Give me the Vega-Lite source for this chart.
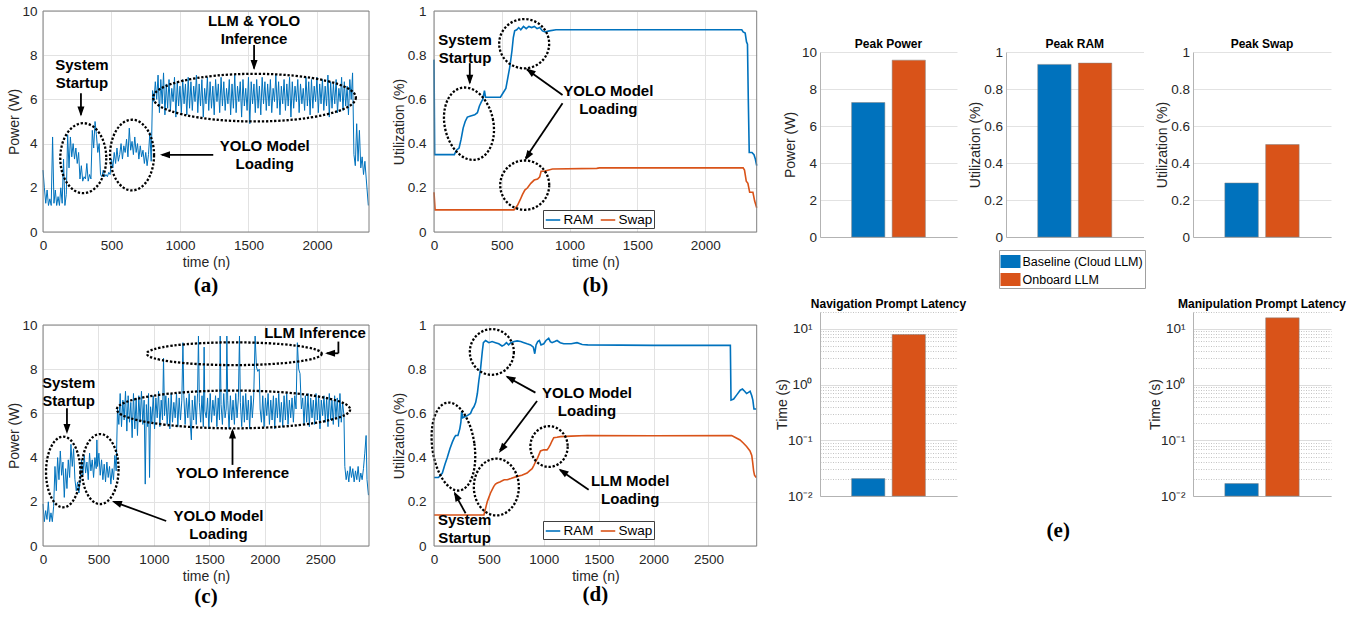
{
"$schema": "https://vega.github.io/schema/vega-lite/v6.json",
"background": "white",
"padding": {"left": 7, "top": 4, "right": 5, "bottom": 5},
"bounds": "flush",
"columns": 9,
"spacing": {"row": 88, "column": 0},
"resolve": {"scale": {"color": "independent"}, "legend": {"color": "independent"}},
"datasets": {
"pa": [{"t":0,"v":2.8},{"t":10,"v":2.0},{"t":20,"v":1.3},{"t":30,"v":1.9},{"t":40,"v":1.2},{"t":50,"v":1.5},{"t":60,"v":1.2},{"t":70,"v":4.3},{"t":80,"v":1.3},{"t":90,"v":1.9},{"t":100,"v":1.2},{"t":110,"v":1.6},{"t":120,"v":1.2},{"t":130,"v":2.0},{"t":140,"v":1.3},{"t":150,"v":3.3},{"t":160,"v":1.2},{"t":170,"v":1.7},{"t":180,"v":4.4},{"t":190,"v":2.9},{"t":200,"v":4.3},{"t":210,"v":3.4},{"t":220,"v":4.0},{"t":230,"v":3.3},{"t":240,"v":3.8},{"t":250,"v":3.1},{"t":260,"v":3.6},{"t":270,"v":2.4},{"t":280,"v":3.0},{"t":290,"v":2.3},{"t":300,"v":2.5},{"t":310,"v":2.4},{"t":320,"v":3.1},{"t":330,"v":2.3},{"t":340,"v":2.6},{"t":350,"v":2.4},{"t":360,"v":4.6},{"t":370,"v":3.8},{"t":380,"v":5.0},{"t":390,"v":4.4},{"t":400,"v":3.6},{"t":410,"v":4.0},{"t":420,"v":2.6},{"t":430,"v":2.5},{"t":440,"v":2.8},{"t":450,"v":2.5},{"t":460,"v":2.6},{"t":470,"v":2.5},{"t":480,"v":2.7},{"t":490,"v":2.6},{"t":500,"v":3.3},{"t":510,"v":2.9},{"t":520,"v":3.6},{"t":530,"v":3.1},{"t":540,"v":3.8},{"t":550,"v":3.2},{"t":560,"v":3.5},{"t":570,"v":4.0},{"t":580,"v":3.3},{"t":590,"v":3.9},{"t":600,"v":3.6},{"t":610,"v":4.2},{"t":620,"v":3.4},{"t":630,"v":4.7},{"t":640,"v":3.7},{"t":650,"v":4.1},{"t":660,"v":3.5},{"t":670,"v":4.3},{"t":680,"v":3.6},{"t":690,"v":4.0},{"t":700,"v":3.3},{"t":710,"v":3.9},{"t":720,"v":3.4},{"t":730,"v":3.7},{"t":740,"v":3.1},{"t":750,"v":3.6},{"t":760,"v":3.0},{"t":770,"v":3.5},{"t":780,"v":4.5},{"t":790,"v":3.2},{"t":800,"v":6.4},{"t":810,"v":5.9},{"t":820,"v":6.8},
{"t":830,"v":6.0},{"t":840,"v":7.1},{"t":850,"v":5.4},{"t":860,"v":6.9},{"t":870,"v":5.8},{"t":880,"v":7.2},{"t":890,"v":5.3},{"t":900,"v":6.7},{"t":910,"v":5.6},{"t":920,"v":6.9},{"t":930,"v":5.5},{"t":940,"v":6.5},{"t":950,"v":5.9},{"t":960,"v":7.0},{"t":970,"v":5.2},{"t":980,"v":6.8},{"t":990,"v":5.7},{"t":1000,"v":6.6},{"t":1010,"v":5.4},{"t":1020,"v":6.9},{"t":1030,"v":5.8},{"t":1040,"v":6.7},{"t":1050,"v":5.3},{"t":1060,"v":7.0},{"t":1070,"v":5.6},{"t":1080,"v":6.8},{"t":1090,"v":5.5},{"t":1100,"v":6.6},{"t":1110,"v":5.9},{"t":1120,"v":7.1},{"t":1130,"v":5.4},{"t":1140,"v":6.7},{"t":1150,"v":5.7},{"t":1160,"v":6.9},{"t":1170,"v":5.2},{"t":1180,"v":6.5},{"t":1190,"v":5.8},{"t":1200,"v":7.0},{"t":1210,"v":5.5},{"t":1220,"v":6.8},{"t":1230,"v":5.6},{"t":1240,"v":6.6},{"t":1250,"v":5.3},{"t":1260,"v":6.9},{"t":1270,"v":5.9},{"t":1280,"v":6.7},{"t":1290,"v":5.4},{"t":1300,"v":7.0},{"t":1310,"v":5.7},{"t":1320,"v":6.8},{"t":1330,"v":5.5},{"t":1340,"v":6.5},{"t":1350,"v":5.8},{"t":1360,"v":6.9},{"t":1370,"v":5.3},{"t":1380,"v":6.7},{"t":1390,"v":5.6},{"t":1400,"v":7.1},{"t":1410,"v":5.4},{"t":1420,"v":6.6},{"t":1430,"v":5.9},{"t":1440,"v":6.8},{"t":1450,"v":5.2},{"t":1460,"v":6.9},{"t":1470,"v":5.7},{"t":1480,"v":6.5},{"t":1490,"v":5.5},{"t":1500,"v":7.0},{"t":1510,"v":4.9},{"t":1520,"v":6.8},{"t":1530,"v":5.8},{"t":1540,"v":6.7},{"t":1550,"v":5.4},{"t":1560,"v":6.9},{"t":1570,"v":5.6},{"t":1580,"v":6.6},{"t":1590,"v":5.3},{"t":1600,"v":7.0},{"t":1610,"v":5.8},{"t":1620,"v":6.8},{"t":1630,"v":5.5},{"t":1640,"v":6.7},{"t":1650,"v":5.7},{"t":1660,"v":6.9},{"t":1670,"v":5.4},{"t":1680,"v":6.5},{"t":1690,"v":5.9},{"t":1700,"v":7.1},{"t":1710,"v":5.6},{"t":1720,"v":6.8},{"t":1730,"v":5.3},{"t":1740,"v":6.6},{"t":1750,"v":5.8},{"t":1760,"v":6.9},{"t":1770,"v":5.5},{"t":1780,"v":6.7},{"t":1790,"v":5.7},{"t":1800,"v":7.0},{"t":1810,"v":5.2},{"t":1820,"v":6.8},{"t":1830,"v":5.6},{"t":1840,"v":6.6},{"t":1850,"v":5.9},{"t":1860,"v":6.9},{"t":1870,"v":5.4},{"t":1880,"v":6.7},{"t":1890,"v":5.8},{"t":1900,"v":6.5},{"t":1910,"v":5.5},{"t":1920,"v":7.0},{"t":1930,"v":5.7},{"t":1940,"v":6.8},{"t":1950,"v":5.3},{"t":1960,"v":6.9},{"t":1970,"v":5.6},{"t":1980,"v":6.6},{"t":1990,"v":5.9},{"t":2000,"v":7.0},{"t":2010,"v":5.4},{"t":2020,"v":6.7},{"t":2030,"v":5.8},{"t":2040,"v":6.9},{"t":2050,"v":5.5},{"t":2060,"v":6.6},{"t":2070,"v":5.7},{"t":2080,"v":7.1},{"t":2090,"v":5.2},{"t":2100,"v":6.8},{"t":2110,"v":5.6},{"t":2120,"v":6.7},{"t":2130,"v":5.8},{"t":2140,"v":6.9},{"t":2150,"v":5.4},{"t":2160,"v":6.5},{"t":2170,"v":5.9},{"t":2180,"v":7.0},{"t":2190,"v":5.5},{"t":2200,"v":6.8},{"t":2210,"v":5.7},{"t":2220,"v":6.6},{"t":2230,"v":5.3},{"t":2240,"v":6.9},{"t":2250,"v":6.0},{"t":2260,"v":7.2},{"t":2270,"v":3.5},{"t":2280,"v":3.0},{"t":2290,"v":4.9},{"t":2300,"v":3.2},{"t":2310,"v":4.6},{"t":2320,"v":2.9},{"t":2330,"v":3.4},{"t":2340,"v":2.6},{"t":2350,"v":3.2},{"t":2360,"v":2.4},{"t":2375,"v":1.2}],
"pc": [{"t":0,"v":1.9},{"t":12,"v":1.1},{"t":24,"v":1.6},{"t":36,"v":1.2},{"t":48,"v":2.0},{"t":60,"v":1.1},{"t":72,"v":1.5},{"t":84,"v":1.1},{"t":96,"v":1.8},{"t":108,"v":3.6},{"t":120,"v":2.5},{"t":132,"v":4.0},{"t":144,"v":3.0},{"t":156,"v":4.3},{"t":168,"v":3.2},{"t":180,"v":3.8},{"t":192,"v":2.2},{"t":204,"v":3.5},{"t":216,"v":2.6},{"t":228,"v":3.9},{"t":240,"v":3.1},{"t":252,"v":4.6},{"t":264,"v":3.6},{"t":276,"v":4.4},{"t":288,"v":3.0},{"t":300,"v":2.5},{"t":312,"v":2.9},{"t":324,"v":2.4},{"t":336,"v":3.0},{"t":348,"v":3.9},{"t":360,"v":3.2},{"t":372,"v":4.1},{"t":384,"v":3.3},{"t":396,"v":3.8},{"t":408,"v":3.0},{"t":420,"v":4.2},{"t":432,"v":3.4},{"t":444,"v":3.9},{"t":456,"v":3.1},{"t":468,"v":4.0},{"t":480,"v":3.5},{"t":486,"v":4.8},{"t":492,"v":3.6},{"t":504,"v":4.2},{"t":516,"v":3.2},{"t":528,"v":3.9},{"t":540,"v":3.0},{"t":552,"v":3.7},{"t":564,"v":2.9},{"t":576,"v":3.8},{"t":588,"v":3.1},{"t":600,"v":3.6},{"t":612,"v":2.8},{"t":624,"v":3.5},{"t":636,"v":3.0},{"t":648,"v":4.1},{"t":660,"v":3.4},{"t":672,"v":6.2},{"t":684,"v":5.5},
{"t":696,"v":6.9},{"t":708,"v":5.4},{"t":720,"v":6.6},{"t":732,"v":5.7},{"t":744,"v":7.0},{"t":756,"v":5.2},{"t":768,"v":6.8},{"t":780,"v":5.6},{"t":792,"v":6.5},{"t":804,"v":4.9},{"t":816,"v":6.9},{"t":828,"v":5.3},{"t":840,"v":6.7},{"t":852,"v":5.0},{"t":864,"v":6.8},{"t":876,"v":5.6},{"t":888,"v":7.0},{"t":900,"v":5.5},{"t":912,"v":6.6},{"t":922,"v":2.8},{"t":932,"v":6.4},{"t":944,"v":5.4},{"t":952,"v":6.9},{"t":961,"v":3.1},{"t":970,"v":6.3},{"t":982,"v":5.6},{"t":994,"v":6.8},{"t":1006,"v":5.3},{"t":1018,"v":6.7},{"t":1030,"v":5.8},{"t":1042,"v":7.0},{"t":1054,"v":5.4},{"t":1066,"v":6.6},{"t":1078,"v":5.7},{"t":1087,"v":8.5},{"t":1096,"v":5.9},{"t":1108,"v":6.8},{"t":1120,"v":5.5},{"t":1132,"v":6.7},{"t":1144,"v":5.3},{"t":1156,"v":6.9},{"t":1168,"v":5.6},{"t":1180,"v":6.5},{"t":1192,"v":5.8},{"t":1204,"v":6.9},{"t":1216,"v":5.4},{"t":1228,"v":6.7},{"t":1240,"v":5.7},{"t":1252,"v":6.6},{"t":1262,"v":9.2},{"t":1270,"v":6.8},{"t":1282,"v":5.5},{"t":1294,"v":6.7},{"t":1306,"v":5.8},{"t":1318,"v":6.9},{"t":1330,"v":5.4},{"t":1338,"v":4.8},{"t":1346,"v":6.6},{"t":1358,"v":5.7},{"t":1370,"v":6.8},{"t":1382,"v":5.5},{"t":1394,"v":6.9},{"t":1402,"v":9.5},{"t":1410,"v":6.5},{"t":1422,"v":5.6},{"t":1434,"v":6.8},{"t":1446,"v":5.4},{"t":1453,"v":9.0},{"t":1460,"v":6.1},{"t":1472,"v":5.8},{"t":1484,"v":6.7},{"t":1496,"v":5.3},{"t":1508,"v":6.9},{"t":1520,"v":5.6},{"t":1532,"v":6.6},{"t":1544,"v":5.9},{"t":1556,"v":6.8},{"t":1568,"v":5.4},{"t":1580,"v":6.7},{"t":1592,"v":5.7},{"t":1598,"v":9.5},{"t":1606,"v":6.4},{"t":1618,"v":5.5},{"t":1630,"v":6.9},{"t":1642,"v":5.8},{"t":1652,"v":6.2},{"t":1658,"v":9.5},{"t":1666,"v":6.6},{"t":1678,"v":5.3},{"t":1690,"v":6.8},{"t":1702,"v":5.7},{"t":1714,"v":6.6},{"t":1726,"v":5.5},{"t":1738,"v":6.9},{"t":1750,"v":5.8},{"t":1762,"v":6.7},{"t":1772,"v":9.5},{"t":1780,"v":6.5},{"t":1792,"v":5.4},{"t":1804,"v":6.8},{"t":1816,"v":5.6},{"t":1828,"v":6.9},{"t":1840,"v":5.7},{"t":1852,"v":6.6},{"t":1864,"v":5.3},{"t":1876,"v":6.8},{"t":1888,"v":5.8},{"t":1900,"v":6.7},{"t":1913,"v":9.5},{"t":1925,"v":8.1},{"t":1937,"v":7.9},{"t":1950,"v":8.0},{"t":1958,"v":6.2},{"t":1970,"v":5.6},{"t":1982,"v":6.8},{"t":1994,"v":5.4},{"t":2006,"v":6.7},{"t":2018,"v":5.9},{"t":2030,"v":6.9},{"t":2042,"v":5.5},{"t":2054,"v":6.6},{"t":2066,"v":5.7},{"t":2078,"v":6.8},{"t":2090,"v":5.3},{"t":2102,"v":6.7},{"t":2114,"v":5.8},{"t":2126,"v":6.9},{"t":2138,"v":5.6},{"t":2150,"v":6.5},{"t":2162,"v":5.4},{"t":2174,"v":6.8},{"t":2186,"v":5.7},{"t":2198,"v":6.9},{"t":2210,"v":5.5},{"t":2222,"v":6.6},{"t":2234,"v":5.8},{"t":2246,"v":6.7},{"t":2258,"v":5.6},{"t":2270,"v":6.8},{"t":2282,"v":6.2},{"t":2294,"v":9.2},{"t":2306,"v":8.0},{"t":2318,"v":7.8},{"t":2330,"v":6.2},{"t":2342,"v":6.7},{"t":2354,"v":5.5},{"t":2366,"v":6.8},{"t":2378,"v":5.6},{"t":2390,"v":6.9},{"t":2402,"v":5.4},{"t":2414,"v":6.7},{"t":2426,"v":5.8},{"t":2438,"v":6.6},{"t":2450,"v":5.5},{"t":2462,"v":6.9},{"t":2474,"v":5.7},{"t":2486,"v":6.8},{"t":2498,"v":5.3},{"t":2510,"v":6.6},{"t":2522,"v":5.9},{"t":2534,"v":6.8},{"t":2546,"v":5.6},{"t":2558,"v":6.7},{"t":2570,"v":5.4},{"t":2582,"v":6.9},{"t":2594,"v":5.7},{"t":2606,"v":6.6},{"t":2618,"v":5.5},{"t":2630,"v":6.8},{"t":2642,"v":5.8},{"t":2654,"v":6.7},{"t":2666,"v":5.4},{"t":2678,"v":6.9},{"t":2690,"v":5.6},{"t":2702,"v":6.5},{"t":2714,"v":5.9},{"t":2722,"v":3.6},{"t":2734,"v":3.0},{"t":2746,"v":3.4},{"t":2758,"v":2.9},{"t":2770,"v":3.6},{"t":2782,"v":3.1},{"t":2794,"v":3.5},{"t":2806,"v":2.9},{"t":2818,"v":3.4},{"t":2830,"v":3.0},{"t":2842,"v":3.6},{"t":2854,"v":2.9},{"t":2866,"v":3.3},{"t":2878,"v":3.0},{"t":2890,"v":3.5},{"t":2902,"v":4.2},{"t":2914,"v":5.0},{"t":2922,"v":3.0},{"t":2935,"v":2.3}],
"pb": [{"t":0,"s":"RAM","v":0.78},{"t":5,"s":"RAM","v":0.35},{"t":150,"s":"RAM","v":0.35},{"t":165,"s":"RAM","v":0.37},{"t":185,"s":"RAM","v":0.38},{"t":200,"s":"RAM","v":0.42},{"t":215,"s":"RAM","v":0.47},{"t":230,"s":"RAM","v":0.5},{"t":246,"s":"RAM","v":0.52},{"t":270,"s":"RAM","v":0.525},{"t":300,"s":"RAM","v":0.53},{"t":320,"s":"RAM","v":0.54},{"t":335,"s":"RAM","v":0.57},{"t":350,"s":"RAM","v":0.59},{"t":360,"s":"RAM","v":0.6},{"t":372,"s":"RAM","v":0.64},{"t":380,"s":"RAM","v":0.61},{"t":400,"s":"RAM","v":0.61},{"t":490,"s":"RAM","v":0.61},{"t":510,"s":"RAM","v":0.63},{"t":530,"s":"RAM","v":0.65},{"t":545,"s":"RAM","v":0.7},{"t":560,"s":"RAM","v":0.75},{"t":575,"s":"RAM","v":0.82},{"t":585,"s":"RAM","v":0.88},{"t":595,"s":"RAM","v":0.91},{"t":610,"s":"RAM","v":0.915},{"t":625,"s":"RAM","v":0.925},{"t":640,"s":"RAM","v":0.915},{"t":660,"s":"RAM","v":0.93},{"t":680,"s":"RAM","v":0.92},{"t":700,"s":"RAM","v":0.93},{"t":720,"s":"RAM","v":0.925},{"t":740,"s":"RAM","v":0.93},{"t":760,"s":"RAM","v":0.92},{"t":780,"s":"RAM","v":0.925},{"t":800,"s":"RAM","v":0.91},{"t":820,"s":"RAM","v":0.905},{"t":850,"s":"RAM","v":0.91},{"t":900,"s":"RAM","v":0.915},{"t":1500,"s":"RAM","v":0.915},{"t":2270,"s":"RAM","v":0.915},{"t":2280,"s":"RAM","v":0.905},{"t":2295,"s":"RAM","v":0.9},{"t":2305,"s":"RAM","v":0.86},{"t":2312,"s":"RAM","v":0.85},{"t":2318,"s":"RAM","v":0.6},{"t":2325,"s":"RAM","v":0.36},{"t":2345,"s":"RAM","v":0.36},{"t":2360,"s":"RAM","v":0.35},{"t":2370,"s":"RAM","v":0.33},{"t":2380,"s":"RAM","v":0.3},
{"t":0,"s":"Swap","v":0.18},{"t":8,"s":"Swap","v":0.1},{"t":590,"s":"Swap","v":0.1},{"t":615,"s":"Swap","v":0.12},{"t":635,"s":"Swap","v":0.145},{"t":653,"s":"Swap","v":0.17},{"t":670,"s":"Swap","v":0.19},{"t":690,"s":"Swap","v":0.2},{"t":714,"s":"Swap","v":0.22},{"t":739,"s":"Swap","v":0.235},{"t":764,"s":"Swap","v":0.24},{"t":780,"s":"Swap","v":0.25},{"t":790,"s":"Swap","v":0.275},{"t":813,"s":"Swap","v":0.275},{"t":874,"s":"Swap","v":0.285},{"t":1200,"s":"Swap","v":0.288},{"t":1220,"s":"Swap","v":0.29},{"t":2280,"s":"Swap","v":0.29},{"t":2290,"s":"Swap","v":0.28},{"t":2303,"s":"Swap","v":0.23},{"t":2315,"s":"Swap","v":0.22},{"t":2328,"s":"Swap","v":0.18},{"t":2352,"s":"Swap","v":0.18},{"t":2365,"s":"Swap","v":0.14},{"t":2380,"s":"Swap","v":0.11}],
"pd": [{"t":0,"s":"RAM","v":0.31},{"t":40,"s":"RAM","v":0.31},{"t":60,"s":"RAM","v":0.32},{"t":76,"s":"RAM","v":0.33},{"t":100,"s":"RAM","v":0.37},{"t":121,"s":"RAM","v":0.4},{"t":145,"s":"RAM","v":0.44},{"t":167,"s":"RAM","v":0.47},{"t":185,"s":"RAM","v":0.49},{"t":197,"s":"RAM","v":0.5},{"t":218,"s":"RAM","v":0.5},{"t":235,"s":"RAM","v":0.53},{"t":245,"s":"RAM","v":0.56},{"t":252,"s":"RAM","v":0.61},{"t":262,"s":"RAM","v":0.58},{"t":280,"s":"RAM","v":0.585},{"t":303,"s":"RAM","v":0.59},{"t":333,"s":"RAM","v":0.6},{"t":350,"s":"RAM","v":0.62},{"t":364,"s":"RAM","v":0.63},{"t":380,"s":"RAM","v":0.65},{"t":395,"s":"RAM","v":0.69},{"t":409,"s":"RAM","v":0.75},{"t":424,"s":"RAM","v":0.8},{"t":440,"s":"RAM","v":0.88},{"t":450,"s":"RAM","v":0.92},{"t":470,"s":"RAM","v":0.93},{"t":500,"s":"RAM","v":0.92},{"t":530,"s":"RAM","v":0.925},{"t":560,"s":"RAM","v":0.92},{"t":590,"s":"RAM","v":0.915},{"t":620,"s":"RAM","v":0.905},{"t":640,"s":"RAM","v":0.91},{"t":660,"s":"RAM","v":0.92},{"t":680,"s":"RAM","v":0.91},{"t":700,"s":"RAM","v":0.92},{"t":730,"s":"RAM","v":0.925},{"t":758,"s":"RAM","v":0.928},{"t":790,"s":"RAM","v":0.925},{"t":820,"s":"RAM","v":0.92},{"t":848,"s":"RAM","v":0.915},{"t":880,"s":"RAM","v":0.91},{"t":905,"s":"RAM","v":0.9},{"t":918,"s":"RAM","v":0.87},{"t":930,"s":"RAM","v":0.91},{"t":945,"s":"RAM","v":0.925},{"t":960,"s":"RAM","v":0.93},{"t":975,"s":"RAM","v":0.91},{"t":1000,"s":"RAM","v":0.915},{"t":1020,"s":"RAM","v":0.93},{"t":1045,"s":"RAM","v":0.94},{"t":1060,"s":"RAM","v":0.925},{"t":1076,"s":"RAM","v":0.92},{"t":1100,"s":"RAM","v":0.925},{"t":1121,"s":"RAM","v":0.93},{"t":1150,"s":"RAM","v":0.92},{"t":1182,"s":"RAM","v":0.915},{"t":1250,"s":"RAM","v":0.915},{"t":1303,"s":"RAM","v":0.92},{"t":1350,"s":"RAM","v":0.912},{"t":1400,"s":"RAM","v":0.91},{"t":2000,"s":"RAM","v":0.908},{"t":2700,"s":"RAM","v":0.908},{"t":2706,"s":"RAM","v":0.66},{"t":2730,"s":"RAM","v":0.665},{"t":2760,"s":"RAM","v":0.685},{"t":2790,"s":"RAM","v":0.705},{"t":2810,"s":"RAM","v":0.71},{"t":2830,"s":"RAM","v":0.7},{"t":2848,"s":"RAM","v":0.69},{"t":2865,"s":"RAM","v":0.695},{"t":2880,"s":"RAM","v":0.7},{"t":2895,"s":"RAM","v":0.68},{"t":2905,"s":"RAM","v":0.66},{"t":2915,"s":"RAM","v":0.62},{"t":2935,"s":"RAM","v":0.62},
{"t":0,"s":"Swap","v":0.14},{"t":455,"s":"Swap","v":0.14},{"t":470,"s":"Swap","v":0.17},{"t":485,"s":"Swap","v":0.2},{"t":500,"s":"Swap","v":0.22},{"t":515,"s":"Swap","v":0.24},{"t":530,"s":"Swap","v":0.255},{"t":545,"s":"Swap","v":0.27},{"t":560,"s":"Swap","v":0.28},{"t":576,"s":"Swap","v":0.285},{"t":600,"s":"Swap","v":0.29},{"t":621,"s":"Swap","v":0.295},{"t":640,"s":"Swap","v":0.3},{"t":667,"s":"Swap","v":0.3},{"t":700,"s":"Swap","v":0.305},{"t":758,"s":"Swap","v":0.315},{"t":800,"s":"Swap","v":0.32},{"t":848,"s":"Swap","v":0.33},{"t":870,"s":"Swap","v":0.34},{"t":894,"s":"Swap","v":0.35},{"t":910,"s":"Swap","v":0.365},{"t":924,"s":"Swap","v":0.38},{"t":945,"s":"Swap","v":0.4},{"t":970,"s":"Swap","v":0.43},{"t":1000,"s":"Swap","v":0.435},{"t":1030,"s":"Swap","v":0.435},{"t":1045,"s":"Swap","v":0.445},{"t":1061,"s":"Swap","v":0.46},{"t":1075,"s":"Swap","v":0.475},{"t":1091,"s":"Swap","v":0.49},{"t":1120,"s":"Swap","v":0.492},{"t":1152,"s":"Swap","v":0.495},{"t":1250,"s":"Swap","v":0.497},{"t":1394,"s":"Swap","v":0.5},{"t":2000,"s":"Swap","v":0.499},{"t":2712,"s":"Swap","v":0.5},{"t":2750,"s":"Swap","v":0.49},{"t":2788,"s":"Swap","v":0.48},{"t":2820,"s":"Swap","v":0.465},{"t":2848,"s":"Swap","v":0.45},{"t":2879,"s":"Swap","v":0.43},{"t":2895,"s":"Swap","v":0.41},{"t":2903,"s":"Swap","v":0.38},{"t":2912,"s":"Swap","v":0.34},{"t":2920,"s":"Swap","v":0.32},{"t":2935,"s":"Swap","v":0.31}],
"e": [{"m":"Peak Power","cfg":"Baseline (Cloud LLM)","val":7.27},{"m":"Peak Power","cfg":"Onboard LLM","val":9.56},{"m":"Peak RAM","cfg":"Baseline (Cloud LLM)","val":0.933},{"m":"Peak RAM","cfg":"Onboard LLM","val":0.94},{"m":"Peak Swap","cfg":"Baseline (Cloud LLM)","val":0.292},{"m":"Peak Swap","cfg":"Onboard LLM","val":0.5},{"m":"Navigation","cfg":"Baseline (Cloud LLM)","val":0.0205},{"m":"Navigation","cfg":"Onboard LLM","val":7.9},{"m":"Manipulation","cfg":"Baseline (Cloud LLM)","val":0.0167},{"m":"Manipulation","cfg":"Onboard LLM","val":15.7}],
"ta": [{"t":284,"v":7.56,"label":"System\nStartup"},{"t":1541,"v":9.56,"label":"LLM & YOLO\nInference"},{"t":1619,"v":3.87,"label":"YOLO Model\nLoading"}],
"tb": [{"t":229,"v":0.869,"label":"System\nStartup"},{"t":1286,"v":0.636,"label":"YOLO Model\nLoading"}],
"tc": [{"t":2453,"v":9.62,"label":"LLM Inference"},{"t":1709,"v":3.32,"label":"YOLO Inference"},{"t":231,"v":7.39,"label":"System\nStartup"},{"t":1583,"v":1.36,"label":"YOLO Model\nLoading"}],
"td": [{"t":1394,"v":0.694,"label":"YOLO Model\nLoading"},{"t":1788,"v":0.292,"label":"LLM Model\nLoading"},{"t":279,"v":0.118,"label":"System\nStartup"}],
"ra": [{"t":277,"v":6.28,"t2":277,"v2":5.3},{"t":1541,"v":8.46,"t2":1541,"v2":7.4},{"t":1243,"v":3.49,"t2":870,"v2":3.49}],
"rb": [{"t":264,"v":0.764,"t2":264,"v2":0.675},{"t":948,"v":0.62,"t2":685,"v2":0.735},{"t":948,"v":0.583,"t2":676,"v2":0.335}],
"rc": [{"t":2664,"v":9.25,"t2":2664,"v2":8.72},{"t":2664,"v":8.72,"t2":2560,"v2":8.72},{"t":1709,"v":3.67,"t2":1709,"v2":5.2},{"t":216,"v":6.23,"t2":216,"v2":5.2},{"t":1111,"v":1.13,"t2":640,"v2":2.0}],
"rd": [{"t":924,"v":0.694,"t2":665,"v2":0.765},{"t":939,"v":0.656,"t2":600,"v2":0.433},{"t":1409,"v":0.255,"t2":1148,"v2":0.344},{"t":288,"v":0.148,"t2":188,"v2":0.238}],
"fa": [{"t":0,"v":0,"t2":2380,"v2":0},{"t":2380,"v":0,"t2":2380,"v2":10},{"t":2380,"v":10,"t2":0,"v2":10},{"t":0,"v":10,"t2":0,"v2":0}],
"fb": [{"t":0,"v":0,"t2":2380,"v2":0},{"t":2380,"v":0,"t2":2380,"v2":1},{"t":2380,"v":1,"t2":0,"v2":1},{"t":0,"v":1,"t2":0,"v2":0}],
"fc": [{"t":0,"v":0,"t2":2940,"v2":0},{"t":2940,"v":0,"t2":2940,"v2":10},{"t":2940,"v":10,"t2":0,"v2":10},{"t":0,"v":10,"t2":0,"v2":0}],
"fd": [{"t":0,"v":0,"t2":2940,"v2":0},{"t":2940,"v":0,"t2":2940,"v2":1},{"t":2940,"v":1,"t2":0,"v2":1},{"t":0,"v":1,"t2":0,"v2":0}]
},
"concat": [
{
"width": 326, "height": 221,
"title": {"text": "(a)", "orient": "bottom", "offset": 5.5, "font": "Liberation Serif", "fontSize": 21, "fontWeight": "bold", "color": "#000000"},
"encoding": {
 "x": {"field": "t", "type": "quantitative", "scale": {"domain": [0, 2380], "nice": false, "zero": false}, "axis": {"title": "time (n)", "values": [0,500,1000,1500,2000], "format": "~f", "grid": true, "domain": false, "labelPadding": 6.5, "minExtent": 20, "maxExtent": 20, "titlePadding": 3.5}},
 "y": {"field": "v", "type": "quantitative", "scale": {"domain": [0, 10], "nice": false}, "axis": {"title": "Power (W)", "values": [0,2,4,6,8,10], "format": "~f", "grid": true, "domain": false, "labelPadding": 6, "minExtent": 21, "maxExtent": 21, "titlePadding": 1}}
},
"layer": [
{"data": {"name": "pa"}, "mark": {"type": "line", "color": "#0072BD", "strokeWidth": 1}},
{"data": {"name": "ta"}, "mark": {"type": "text", "fontWeight": "bold", "fontSize": 15, "lineBreak": "\n", "lineHeight": 18, "align": "center", "baseline": "middle", "color": "#000000"}, "encoding": {"text": {"field": "label"}}},
{"data": {"name": "ra"}, "mark": {"type": "rule", "strokeWidth": 1.8, "color": "#000000"}, "encoding": {"x2": {"field": "t2"}, "y2": {"field": "v2"}}},
{"data": {"values": [{"t": 294, "v": 3.34}]}, "mark": {"type": "point", "shape": "M1,0C1,0.84 0.552,1.522 0,1.522C-0.552,1.522 -1,0.84 -1,0C-1,-0.84 -0.552,-1.522 0,-1.522C0.552,-1.522 1,-0.84 1,0Z", "size": 2116, "filled": false, "stroke": "#000000", "strokeWidth": 2.3, "strokeDash": [2.3, 1.8], "opacity": 1}},
{"data": {"values": [{"t": 650, "v": 3.48}]}, "mark": {"type": "point", "shape": "M1,0C1,0.887 0.552,1.607 0,1.607C-0.552,1.607 -1,0.887 -1,0C-1,-0.887 -0.552,-1.607 0,-1.607C0.552,-1.607 1,-0.887 1,0Z", "size": 1936, "filled": false, "stroke": "#000000", "strokeWidth": 2.3, "strokeDash": [2.3, 1.8], "opacity": 1}},
{"data": {"values": [{"t": 1544, "v": 6.08}]}, "mark": {"type": "point", "shape": "M1,0C1,0.13 0.552,0.235 0,0.235C-0.552,0.235 -1,0.13 -1,0C-1,-0.13 -0.552,-0.235 0,-0.235C0.552,-0.235 1,-0.13 1,0Z", "size": 41087, "filled": false, "stroke": "#000000", "strokeWidth": 2.3, "strokeDash": [2.3, 1.8], "opacity": 1}},
{"data": {"values": [{"t": 277, "v": 5.23}]}, "mark": {"type": "point", "shape": "M0,0L0.7,2L-0.7,2Z", "size": 100, "filled": true, "color": "#000000", "opacity": 1, "angle": 180}},
{"data": {"values": [{"t": 1541, "v": 7.33}]}, "mark": {"type": "point", "shape": "M0,0L0.7,2L-0.7,2Z", "size": 100, "filled": true, "color": "#000000", "opacity": 1, "angle": 180}},
{"data": {"values": [{"t": 854, "v": 3.49}]}, "mark": {"type": "point", "shape": "M0,0L0.7,2L-0.7,2Z", "size": 100, "filled": true, "color": "#000000", "opacity": 1, "angle": 270}},
{"data": {"name": "fa"}, "mark": {"type": "rule", "strokeWidth": 1, "color": "#808080"}, "encoding": {"x2": {"field": "t2"}, "y2": {"field": "v2"}}}
]
},
{"width": 64.3, "height": 10, "data": {"values": [{}]}, "mark": {"type": "point", "opacity": 0}, "encoding": {}},
{
"width": 322.7, "height": 221,
"title": {"text": "(b)", "orient": "bottom", "offset": 5.5, "font": "Liberation Serif", "fontSize": 21, "fontWeight": "bold", "color": "#000000"},
"encoding": {
 "x": {"field": "t", "type": "quantitative", "scale": {"domain": [0, 2380], "nice": false, "zero": false}, "axis": {"title": "time (n)", "values": [0,500,1000,1500,2000], "format": "~f", "grid": true, "domain": false, "labelPadding": 6.5, "minExtent": 20, "maxExtent": 20, "titlePadding": 3.5}},
 "y": {"field": "v", "type": "quantitative", "scale": {"domain": [0, 1], "nice": false}, "axis": {"title": "Utilization (%)", "values": [0,0.2,0.4,0.6,0.8,1], "format": "~f", "grid": true, "domain": false, "labelPadding": 8, "minExtent": 27, "maxExtent": 27, "titlePadding": 1}}
},
"layer": [
{"data": {"name": "pb"}, "mark": {"type": "line", "strokeWidth": 1.6},
 "encoding": {"color": {"field": "s", "type": "nominal", "scale": {"domain": ["RAM", "Swap"], "range": ["#0072BD", "#D95319"]}, "legend": {"orient": "none", "legendX": 109, "legendY": 199, "direction": "horizontal", "title": null, "symbolType": "stroke", "symbolSize": 210, "symbolStrokeWidth": 1.6, "labelFontSize": 13.5, "labelColor": "#000000", "strokeColor": "#404040", "fillColor": "#ffffff", "padding": 1.5, "columnPadding": 4, "labelOffset": 2}}}},
{"data": {"name": "tb"}, "mark": {"type": "text", "fontWeight": "bold", "fontSize": 15, "lineBreak": "\n", "lineHeight": 18, "align": "center", "baseline": "middle", "color": "#000000"}, "encoding": {"text": {"field": "label"}}},
{"data": {"name": "rb"}, "mark": {"type": "rule", "strokeWidth": 1.8, "color": "#000000"}, "encoding": {"x2": {"field": "t2"}, "y2": {"field": "v2"}}},
{"data": {"values": [{"t": 258, "v": 0.49}]}, "mark": {"type": "point", "shape": "M1,0C1,0.831 0.552,1.505 0,1.505C-0.552,1.505 -1,0.831 -1,0C-1,-0.831 -0.552,-1.505 0,-1.505C0.552,-1.505 1,-0.831 1,0Z", "size": 2372, "filled": false, "stroke": "#000000", "strokeWidth": 2.3, "strokeDash": [2.3, 1.8], "opacity": 1, "angle": -12}},
{"data": {"values": [{"t": 665, "v": 0.852}]}, "mark": {"type": "point", "shape": "M1,0C1,0.544 0.552,0.986 0,0.986C-0.552,0.986 -1,0.544 -1,0C-1,-0.544 -0.552,-0.986 0,-0.986C0.552,-0.986 1,-0.544 1,0Z", "size": 2500, "filled": false, "stroke": "#000000", "strokeWidth": 2.3, "strokeDash": [2.3, 1.8], "opacity": 1}},
{"data": {"values": [{"t": 669, "v": 0.212}]}, "mark": {"type": "point", "shape": "M1,0C1,0.555 0.552,1.006 0,1.006C-0.552,1.006 -1,0.555 -1,0C-1,-0.555 -0.552,-1.006 0,-1.006C0.552,-1.006 1,-0.555 1,0Z", "size": 2401, "filled": false, "stroke": "#000000", "strokeWidth": 2.3, "strokeDash": [2.3, 1.8], "opacity": 1}},
{"data": {"values": [{"t": 264, "v": 0.666}]}, "mark": {"type": "point", "shape": "M0,0L0.7,2L-0.7,2Z", "size": 100, "filled": true, "color": "#000000", "opacity": 1, "angle": 180}},
{"data": {"values": [{"t": 677, "v": 0.741}]}, "mark": {"type": "point", "shape": "M0,0L0.7,2L-0.7,2Z", "size": 100, "filled": true, "color": "#000000", "opacity": 1, "angle": 306}},
{"data": {"values": [{"t": 670, "v": 0.324}]}, "mark": {"type": "point", "shape": "M0,0L0.7,2L-0.7,2Z", "size": 100, "filled": true, "color": "#000000", "opacity": 1, "angle": 213}},
{"data": {"name": "fb"}, "mark": {"type": "rule", "strokeWidth": 1, "color": "#808080"}, "encoding": {"x2": {"field": "t2"}, "y2": {"field": "v2"}}}
]
},
{"width": 63, "height": 10, "data": {"values": [{}]}, "mark": {"type": "point", "opacity": 0}, "encoding": {}},
{
"width": 137, "height": 226,
"data": {"name": "e"},
"transform": [{"filter": "datum.m === 'Peak Power'"}],
"title": {"text": "Peak Power", "offset": -40},
"mark": {"type": "bar", "stroke": "#808080", "strokeWidth": 0.5},
"encoding": {
 "x": {"field": "cfg", "type": "nominal", "sort": null, "scale": {"paddingInner": 0.18, "paddingOuter": 0.78}, "axis": {"title": null, "labels": false, "ticks": false, "domain": true, "domainColor": "#b3b3b3", "grid": false}},
 "y": {"field": "val", "type": "quantitative", "scale": {"domain": [0, 10], "nice": false, "range": [226, 41]}, "axis": {"title": "Power (W)", "values": [0,2,4,6,8,10], "format": "~f", "grid": true, "domainColor": "#b3b3b3", "labelPadding": 3.5, "minExtent": 19, "maxExtent": 19, "titlePadding": 3.5}},
 "color": {"field": "cfg", "type": "nominal", "scale": {"domain": ["Baseline (Cloud LLM)", "Onboard LLM"], "range": ["#0072BD", "#D95319"]}, "legend": null}
}
},
{"width": 49, "height": 10, "data": {"values": [{}]}, "mark": {"type": "point", "opacity": 0}, "encoding": {}},
{
"width": 137.5, "height": 226,
"data": {"name": "e"},
"transform": [{"filter": "datum.m === 'Peak RAM'"}],
"title": {"text": "Peak RAM", "offset": -40},
"mark": {"type": "bar", "stroke": "#808080", "strokeWidth": 0.5},
"encoding": {
 "x": {"field": "cfg", "type": "nominal", "sort": null, "scale": {"paddingInner": 0.18, "paddingOuter": 0.78}, "axis": {"title": null, "labels": false, "ticks": false, "domain": true, "domainColor": "#b3b3b3", "grid": false}},
 "y": {"field": "val", "type": "quantitative", "scale": {"domain": [0, 1], "nice": false, "range": [226, 41]}, "axis": {"title": "Utilization (%)", "values": [0,0.2,0.4,0.6,0.8,1], "format": "~f", "grid": true, "domainColor": "#b3b3b3", "labelPadding": 3.5, "minExtent": 23, "maxExtent": 23, "titlePadding": 0.5}},
 "color": {"field": "cfg", "type": "nominal", "scale": {"domain": ["Baseline (Cloud LLM)", "Onboard LLM"], "range": ["#0072BD", "#D95319"]}, "legend": {"orient": "none", "legendX": -7, "legendY": 239, "direction": "vertical", "title": null, "symbolType": "M-1,-0.65H1V0.65H-1Z", "symbolSize": 400, "symbolStrokeWidth": 0, "labelFontSize": 12.5, "labelColor": "#000000", "strokeColor": "#a0a0a0", "fillColor": "#ffffff", "padding": 1.5, "rowPadding": 1, "labelOffset": 2}}
}
},
{"width": 48.5, "height": 10, "data": {"values": [{}]}, "mark": {"type": "point", "opacity": 0}, "encoding": {}},
{
"width": 138, "height": 226,
"data": {"name": "e"},
"transform": [{"filter": "datum.m === 'Peak Swap'"}],
"title": {"text": "Peak Swap", "offset": -40},
"mark": {"type": "bar", "stroke": "#808080", "strokeWidth": 0.5},
"encoding": {
 "x": {"field": "cfg", "type": "nominal", "sort": null, "scale": {"paddingInner": 0.18, "paddingOuter": 0.78}, "axis": {"title": null, "labels": false, "ticks": false, "domain": true, "domainColor": "#b3b3b3", "grid": false}},
 "y": {"field": "val", "type": "quantitative", "scale": {"domain": [0, 1], "nice": false, "range": [226, 41]}, "axis": {"title": "Utilization (%)", "values": [0,0.2,0.4,0.6,0.8,1], "format": "~f", "grid": true, "domainColor": "#b3b3b3", "labelPadding": 3.5, "minExtent": 23, "maxExtent": 23, "titlePadding": 0.5}},
 "color": {"field": "cfg", "type": "nominal", "scale": {"domain": ["Baseline (Cloud LLM)", "Onboard LLM"], "range": ["#0072BD", "#D95319"]}, "legend": null}
}
},
{
"width": 326, "height": 221,
"title": {"text": "(c)", "orient": "bottom", "offset": 2, "font": "Liberation Serif", "fontSize": 21, "fontWeight": "bold", "color": "#000000"},
"encoding": {
 "x": {"field": "t", "type": "quantitative", "scale": {"domain": [0, 2940], "nice": false, "zero": false}, "axis": {"title": "time (n)", "values": [0,500,1000,1500,2000,2500], "format": "~f", "grid": true, "domain": false, "labelPadding": 6.5, "minExtent": 20, "maxExtent": 20, "titlePadding": 3.5}},
 "y": {"field": "v", "type": "quantitative", "scale": {"domain": [0, 10], "nice": false}, "axis": {"title": "Power (W)", "values": [0,2,4,6,8,10], "format": "~f", "grid": true, "domain": false, "labelPadding": 6, "minExtent": 21, "maxExtent": 21, "titlePadding": 1}}
},
"layer": [
{"data": {"name": "pc"}, "mark": {"type": "line", "color": "#0072BD", "strokeWidth": 1}},
{"data": {"name": "tc"}, "mark": {"type": "text", "fontWeight": "bold", "fontSize": 15, "lineBreak": "\n", "lineHeight": 18, "align": "center", "baseline": "middle", "color": "#000000"}, "encoding": {"text": {"field": "label"}}},
{"data": {"name": "rc"}, "mark": {"type": "rule", "strokeWidth": 1.8, "color": "#000000"}, "encoding": {"x2": {"field": "t2"}, "y2": {"field": "v2"}}},
{"data": {"values": [{"t": 1725, "v": 8.7}]}, "mark": {"type": "point", "shape": "M1,0C1,0.072 0.552,0.13 0,0.13C-0.552,0.13 -1,0.072 -1,0C-1,-0.072 -0.552,-0.13 0,-0.13C0.552,-0.13 1,-0.072 1,0Z", "size": 30625, "filled": false, "stroke": "#000000", "strokeWidth": 2.3, "strokeDash": [2.3, 1.8], "opacity": 1}},
{"data": {"values": [{"t": 1718, "v": 6.18}]}, "mark": {"type": "point", "shape": "M1,0C1,0.089 0.552,0.162 0,0.162C-0.552,0.162 -1,0.089 -1,0C-1,-0.089 -0.552,-0.162 0,-0.162C0.552,-0.162 1,-0.089 1,0Z", "size": 54429, "filled": false, "stroke": "#000000", "strokeWidth": 2.3, "strokeDash": [2.3, 1.8], "opacity": 1}},
{"data": {"values": [{"t": 182, "v": 3.35}]}, "mark": {"type": "point", "shape": "M1,0C1,1.138 0.552,2.061 0,2.061C-0.552,2.061 -1,1.138 -1,0C-1,-1.138 -0.552,-2.061 0,-2.061C0.552,-2.061 1,-1.138 1,0Z", "size": 1176, "filled": false, "stroke": "#000000", "strokeWidth": 2.3, "strokeDash": [2.3, 1.8], "opacity": 1}},
{"data": {"values": [{"t": 516, "v": 3.48}]}, "mark": {"type": "point", "shape": "M1,0C1,1.053 0.552,1.907 0,1.907C-0.552,1.907 -1,1.053 -1,0C-1,-1.053 -0.552,-1.907 0,-1.907C0.552,-1.907 1,-1.053 1,0Z", "size": 1347, "filled": false, "stroke": "#000000", "strokeWidth": 2.3, "strokeDash": [2.3, 1.8], "opacity": 1}},
{"data": {"values": [{"t": 2544, "v": 8.72}]}, "mark": {"type": "point", "shape": "M0,0L0.7,2L-0.7,2Z", "size": 100, "filled": true, "color": "#000000", "opacity": 1, "angle": 270}},
{"data": {"values": [{"t": 1709, "v": 5.32}]}, "mark": {"type": "point", "shape": "M0,0L0.7,2L-0.7,2Z", "size": 100, "filled": true, "color": "#000000", "opacity": 1, "angle": 0}},
{"data": {"values": [{"t": 216, "v": 5.07}]}, "mark": {"type": "point", "shape": "M0,0L0.7,2L-0.7,2Z", "size": 100, "filled": true, "color": "#000000", "opacity": 1, "angle": 180}},
{"data": {"values": [{"t": 622, "v": 2.04}]}, "mark": {"type": "point", "shape": "M0,0L0.7,2L-0.7,2Z", "size": 100, "filled": true, "color": "#000000", "opacity": 1, "angle": 290}},
{"data": {"name": "fc"}, "mark": {"type": "rule", "strokeWidth": 1, "color": "#808080"}, "encoding": {"x2": {"field": "t2"}, "y2": {"field": "v2"}}}
]
},
{"width": 64.3, "height": 10, "data": {"values": [{}]}, "mark": {"type": "point", "opacity": 0}, "encoding": {}},
{
"width": 322.7, "height": 221,
"title": {"text": "(d)", "orient": "bottom", "offset": 0, "font": "Liberation Serif", "fontSize": 21, "fontWeight": "bold", "color": "#000000"},
"encoding": {
 "x": {"field": "t", "type": "quantitative", "scale": {"domain": [0, 2940], "nice": false, "zero": false}, "axis": {"title": "time (n)", "values": [0,500,1000,1500,2000,2500], "format": "~f", "grid": true, "domain": false, "labelPadding": 6.5, "minExtent": 20, "maxExtent": 20, "titlePadding": 3.5}},
 "y": {"field": "v", "type": "quantitative", "scale": {"domain": [0, 1], "nice": false}, "axis": {"title": "Utilization (%)", "values": [0,0.2,0.4,0.6,0.8,1], "format": "~f", "grid": true, "domain": false, "labelPadding": 8, "minExtent": 27, "maxExtent": 27, "titlePadding": 1}}
},
"layer": [
{"data": {"name": "pd"}, "mark": {"type": "line", "strokeWidth": 1.6},
 "encoding": {"color": {"field": "s", "type": "nominal", "scale": {"domain": ["RAM", "Swap"], "range": ["#0072BD", "#D95319"]}, "legend": {"orient": "none", "legendX": 109, "legendY": 196, "direction": "horizontal", "title": null, "symbolType": "stroke", "symbolSize": 210, "symbolStrokeWidth": 1.6, "labelFontSize": 13.5, "labelColor": "#000000", "strokeColor": "#404040", "fillColor": "#ffffff", "padding": 1.5, "columnPadding": 4, "labelOffset": 2}}}},
{"data": {"name": "td"}, "mark": {"type": "text", "fontWeight": "bold", "fontSize": 15, "lineBreak": "\n", "lineHeight": 18, "align": "center", "baseline": "middle", "color": "#000000"}, "encoding": {"text": {"field": "label"}}},
{"data": {"name": "rd"}, "mark": {"type": "rule", "strokeWidth": 1.8, "color": "#000000"}, "encoding": {"x2": {"field": "t2"}, "y2": {"field": "v2"}}},
{"data": {"values": [{"t": 527, "v": 0.878}]}, "mark": {"type": "point", "shape": "M1,0C1,0.573 0.552,1.039 0,1.039C-0.552,1.039 -1,0.573 -1,0C-1,-0.573 -0.552,-1.039 0,-1.039C0.552,-1.039 1,-0.573 1,0Z", "size": 1936, "filled": false, "stroke": "#000000", "strokeWidth": 2.3, "strokeDash": [2.3, 1.8], "opacity": 1}},
{"data": {"values": [{"t": 177, "v": 0.45}]}, "mark": {"type": "point", "shape": "M1,0C1,1.158 0.552,2.097 0,2.097C-0.552,2.097 -1,1.158 -1,0C-1,-1.158 -0.552,-2.097 0,-2.097C0.552,-2.097 1,-1.158 1,0Z", "size": 1789, "filled": false, "stroke": "#000000", "strokeWidth": 2.3, "strokeDash": [2.3, 1.8], "opacity": 1, "angle": -8}},
{"data": {"values": [{"t": 568, "v": 0.267}]}, "mark": {"type": "point", "shape": "M1,0C1,0.696 0.552,1.26 0,1.26C-0.552,1.26 -1,0.696 -1,0C-1,-0.696 -0.552,-1.26 0,-1.26C0.552,-1.26 1,-0.696 1,0Z", "size": 2025, "filled": false, "stroke": "#000000", "strokeWidth": 2.3, "strokeDash": [2.3, 1.8], "opacity": 1}},
{"data": {"values": [{"t": 1048, "v": 0.45}]}, "mark": {"type": "point", "shape": "M1,0C1,0.602 0.552,1.091 0,1.091C-0.552,1.091 -1,0.602 -1,0C-1,-0.602 -0.552,-1.091 0,-1.091C0.552,-1.091 1,-0.602 1,0Z", "size": 1391, "filled": false, "stroke": "#000000", "strokeWidth": 2.3, "strokeDash": [2.3, 1.8], "opacity": 1}},
{"data": {"values": [{"t": 652, "v": 0.77}]}, "mark": {"type": "point", "shape": "M0,0L0.7,2L-0.7,2Z", "size": 100, "filled": true, "color": "#000000", "opacity": 1, "angle": 299}},
{"data": {"values": [{"t": 591, "v": 0.421}]}, "mark": {"type": "point", "shape": "M0,0L0.7,2L-0.7,2Z", "size": 100, "filled": true, "color": "#000000", "opacity": 1, "angle": 216.5}},
{"data": {"values": [{"t": 1136, "v": 0.35}]}, "mark": {"type": "point", "shape": "M0,0L0.7,2L-0.7,2Z", "size": 100, "filled": true, "color": "#000000", "opacity": 1, "angle": 305}},
{"data": {"values": [{"t": 182, "v": 0.247}]}, "mark": {"type": "point", "shape": "M0,0L0.7,2L-0.7,2Z", "size": 100, "filled": true, "color": "#000000", "opacity": 1, "angle": 332}},
{"data": {"name": "fd"}, "mark": {"type": "rule", "strokeWidth": 1, "color": "#808080"}, "encoding": {"x2": {"field": "t2"}, "y2": {"field": "v2"}}}
]
},
{"width": 63, "height": 10, "data": {"values": [{}]}, "mark": {"type": "point", "opacity": 0}, "encoding": {}},
{
"width": 137, "height": 171,
"data": {"name": "e"},
"transform": [{"filter": "datum.m === 'Navigation'"}],
"title": {"text": "Navigation Prompt Latency", "offset": -5.5},
"mark": {"type": "bar", "stroke": "#808080", "strokeWidth": 0.5},
"encoding": {
 "x": {"field": "cfg", "type": "nominal", "sort": null, "scale": {"paddingInner": 0.18, "paddingOuter": 0.78}, "axis": {"title": null, "labels": false, "ticks": false, "domain": true, "domainColor": "#b3b3b3", "grid": false}},
 "y": {"field": "val", "type": "quantitative", "scale": {"type": "log", "domain": [0.01, 20], "nice": false, "range": [171, -13]}, "axis": {"title": "Time (s)", "values": [0.01,0.02,0.03,0.04,0.05,0.06,0.07,0.08,0.09,0.1,0.2,0.3,0.4,0.5,0.6,0.7,0.8,0.9,1,2,3,4,5,6,7,8,9,10,20], "labelExpr": "datum.value == 10 ? '10¹' : datum.value == 1 ? '10⁰' : datum.value == 0.1 ? '10⁻¹' : datum.value == 0.01 ? '10⁻²' : ''", "grid": true, "gridDash": {"condition": {"test": "datum.value == 10 || datum.value == 1 || datum.value == 0.1 || datum.value == 0.01", "value": []}, "value": [1, 1.5]}, "gridColor": {"condition": {"test": "datum.value == 10 || datum.value == 1 || datum.value == 0.1 || datum.value == 0.01", "value": "#dcdcdc"}, "value": "#c4c4c4"}, "domainColor": "#b3b3b3", "labelPadding": 8, "minExtent": 30, "maxExtent": 30, "titlePadding": 1}},
 "y2": {"datum": 0.01},
 "color": {"field": "cfg", "type": "nominal", "scale": {"domain": ["Baseline (Cloud LLM)", "Onboard LLM"], "range": ["#0072BD", "#D95319"]}, "legend": null}
}
},
{"width": 49, "height": 10, "data": {"values": [{}]}, "mark": {"type": "point", "opacity": 0}, "encoding": {}},
{"width": 137.5, "height": 171, "data": {"values": [{}]}, "mark": {"type": "point", "opacity": 0}, "encoding": {},
 "title": {"text": "(e)", "orient": "bottom", "offset": 23.5, "dx": -16.5, "font": "Liberation Serif", "fontSize": 21, "fontWeight": "bold", "color": "#000000"}},
{"width": 48.5, "height": 10, "data": {"values": [{}]}, "mark": {"type": "point", "opacity": 0}, "encoding": {}},
{
"width": 138, "height": 171,
"data": {"name": "e"},
"transform": [{"filter": "datum.m === 'Manipulation'"}],
"title": {"text": "Manipulation Prompt Latency", "offset": -5.5},
"mark": {"type": "bar", "stroke": "#808080", "strokeWidth": 0.5},
"encoding": {
 "x": {"field": "cfg", "type": "nominal", "sort": null, "scale": {"paddingInner": 0.18, "paddingOuter": 0.78}, "axis": {"title": null, "labels": false, "ticks": false, "domain": true, "domainColor": "#b3b3b3", "grid": false}},
 "y": {"field": "val", "type": "quantitative", "scale": {"type": "log", "domain": [0.01, 20], "nice": false, "range": [171, -13]}, "axis": {"title": "Time (s)", "values": [0.01,0.02,0.03,0.04,0.05,0.06,0.07,0.08,0.09,0.1,0.2,0.3,0.4,0.5,0.6,0.7,0.8,0.9,1,2,3,4,5,6,7,8,9,10,20], "labelExpr": "datum.value == 10 ? '10¹' : datum.value == 1 ? '10⁰' : datum.value == 0.1 ? '10⁻¹' : datum.value == 0.01 ? '10⁻²' : ''", "grid": true, "gridDash": {"condition": {"test": "datum.value == 10 || datum.value == 1 || datum.value == 0.1 || datum.value == 0.01", "value": []}, "value": [1, 1.5]}, "gridColor": {"condition": {"test": "datum.value == 10 || datum.value == 1 || datum.value == 0.1 || datum.value == 0.01", "value": "#dcdcdc"}, "value": "#c4c4c4"}, "domainColor": "#b3b3b3", "labelPadding": 8, "minExtent": 30, "maxExtent": 30, "titlePadding": 1}},
 "y2": {"datum": 0.01},
 "color": {"field": "cfg", "type": "nominal", "scale": {"domain": ["Baseline (Cloud LLM)", "Onboard LLM"], "range": ["#0072BD", "#D95319"]}, "legend": null}
}
}
],
"config": {
 "font": "Liberation Sans",
 "view": {"stroke": null},
 "axis": {"labelFont": "Liberation Sans", "titleFont": "Liberation Sans", "labelFontSize": 13.5, "titleFontSize": 14, "labelColor": "#262626", "titleColor": "#262626", "titleFontWeight": "normal", "ticks": false, "tickSize": 0, "labelOverlap": false, "labelFlush": false, "gridColor": "#e2e2e2", "gridWidth": 1},
 "title": {"font": "Liberation Sans", "fontSize": 12, "fontWeight": "bold", "color": "#000000"},
 "legend": {"labelFont": "Liberation Sans"}
}
}
